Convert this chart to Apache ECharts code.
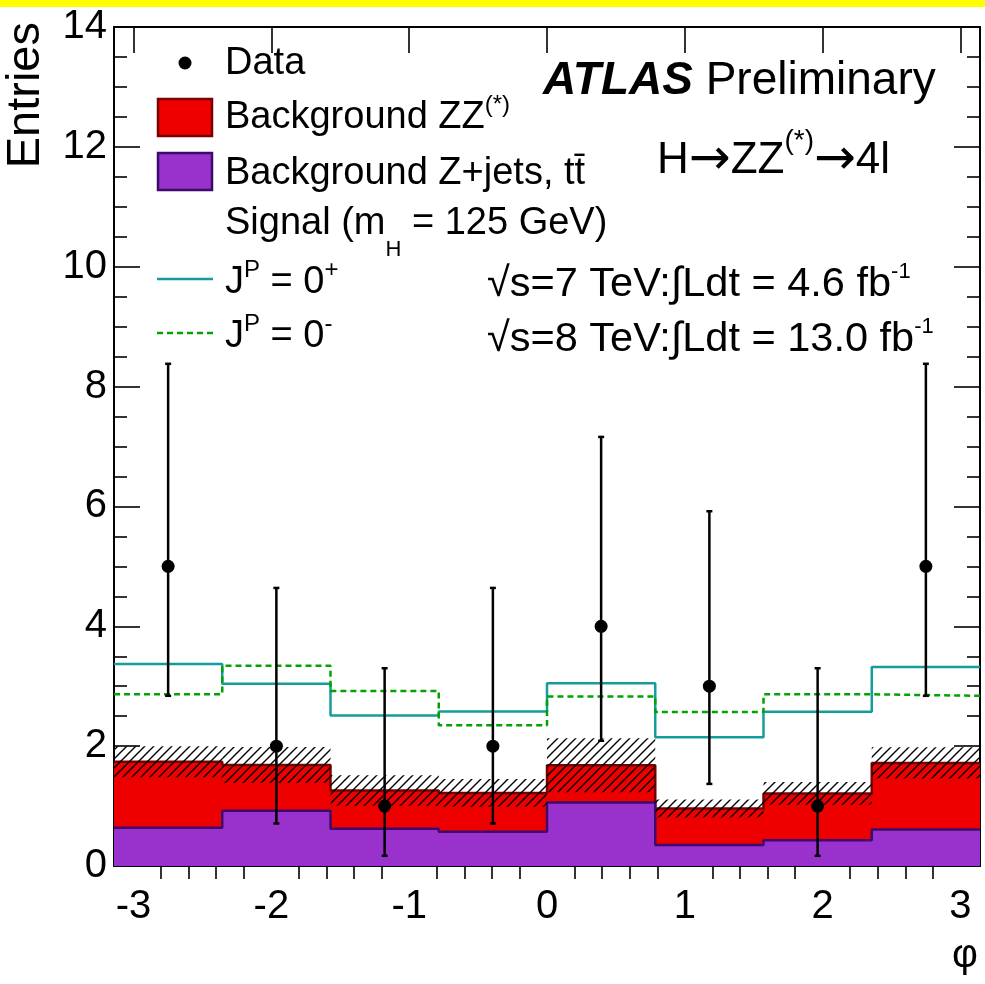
<!DOCTYPE html>
<html>
<head>
<meta charset="utf-8">
<script src="https://cdn.jsdelivr.net/npm/echarts@6/dist/echarts.min.js"></script>
<style>
  html, body { margin: 0; padding: 0; background: #fff; }
  #chart { width: 985px; height: 984px; }
</style>
</head>
<body>
<div id="chart"></div>
<script>
// ---- histogram binning in phi (8 bins of pi/4) ----
const binEdges = [-Math.PI, -3 * Math.PI / 4, -Math.PI / 2, -Math.PI / 4, 0,
                  Math.PI / 4, Math.PI / 2, 3 * Math.PI / 4, Math.PI];

// background Z+jets, ttbar (bottom of stack)
const bgZjets = [0.64, 0.92, 0.62, 0.57, 1.06, 0.35, 0.43, 0.61];
// background ZZ(*) (stacked on top of Z+jets)
const bgZZ = [1.10, 0.765, 0.64, 0.65, 0.62, 0.61, 0.78, 1.11];
// systematic uncertainty on the total background (hatched band)
const bgUnc = [0.26, 0.30, 0.255, 0.23, 0.45, 0.15, 0.19, 0.26];

// signal + background expectations for the two spin-parity hypotheses
const sigPlus = [3.37, 3.04, 2.51, 2.58, 3.05, 2.15, 2.575, 3.32];   // J^P = 0+
const sigMinus = [2.865, 3.34, 2.92, 2.35, 2.83, 2.57, 2.865, 2.84]; // J^P = 0-

// observed events with Poisson error bounds
const dataCounts = [5, 2, 1, 2, 4, 3, 1, 5];
const dataLow = [2.84, 0.71, 0.17, 0.71, 2.09, 1.37, 0.17, 2.84];
const dataHigh = [8.38, 4.64, 3.30, 4.64, 7.16, 5.92, 3.30, 8.38];

// axis ticks
const xMajorTicks = [-3, -2, -1, 0, 1, 2, 3];
const xMinorTicks = [];
for (let k = -30; k <= 30; k += 2) { if (k % 10 !== 0) xMinorTicks.push(k / 10); }

const FONT = 'Liberation Sans, Arial, Helvetica, sans-serif';
const ARROW_FONT = 'DejaVu Sans, sans-serif';
const RED = '#ee0000', RED_LINE = '#7a0000';
const PURPLE = '#9932cc', PURPLE_LINE = '#3c0a6e';
const CYAN = '#159c9c', GREEN = '#00a300';

// diagonal "///" hatch used for the background uncertainty
function makeHatch() {
  const s = 9;
  const c = document.createElement('canvas');
  c.width = s; c.height = s;
  const g = c.getContext('2d');
  g.strokeStyle = '#000';
  g.lineWidth = 1.4;
  g.beginPath();
  g.moveTo(0, s); g.lineTo(s, 0);
  g.moveTo(-2, 2); g.lineTo(2, -2);
  g.moveTo(s - 2, s + 2); g.lineTo(s + 2, s - 2);
  g.stroke();
  return { image: c, repeat: 'repeat' };
}

const nBins = bgZjets.length;
const bgTotal = bgZjets.map((v, i) => v + bgZZ[i]);
const binCenters = binEdges.slice(0, nBins).map((e, i) => (e + binEdges[i + 1]) / 2);

// filled boxes per bin: [xLow, xHigh, yLow, yHigh]
function boxSeries(name, lows, highs, style, z) {
  return {
    type: 'custom', name: name, z: z, silent: true,
    renderItem: function (params, api) {
      const p0 = api.coord([api.value(0), api.value(3)]);
      const p1 = api.coord([api.value(1), api.value(2)]);
      return {
        type: 'rect',
        shape: { x: p0[0], y: p0[1], width: p1[0] - p0[0], height: p1[1] - p0[1] },
        style: style
      };
    },
    encode: { x: [0, 1], y: [2, 3] },
    data: lows.map((lo, i) => [binEdges[i], binEdges[i + 1], lo, highs[i]])
  };
}

// histogram drawn as a step line, optionally filled down to zero
function stepSeries(name, vals, color, width, type, z, fill) {
  const s = {
    type: 'line', name: name, z: z, step: 'end', showSymbol: false, silent: true,
    lineStyle: { color: color, width: width, type: type },
    data: binEdges.map((e, i) => [e, vals[Math.min(i, nBins - 1)]])
  };
  if (fill) s.areaStyle = { color: fill, opacity: 1, origin: 'start' };
  return s;
}

const hatch = makeHatch();

const series = [
  stepSeries('Background ZZ(*)', bgTotal, RED_LINE, 2.5, 'solid', 1, RED),
  stepSeries('Background Z+jets, tt', bgZjets, PURPLE_LINE, 2.5, 'solid', 2, PURPLE),
  boxSeries('Uncertainty', bgTotal.map((v, i) => v - bgUnc[i]), bgTotal.map((v, i) => v + bgUnc[i]),
            { fill: hatch }, 4),
  stepSeries('JP = 0+', sigPlus, CYAN, 2.5, 'solid', 5),
  stepSeries('JP = 0-', sigMinus, GREEN, 2.5, [6, 4], 5),
  {
    type: 'custom', name: 'Data', z: 6, silent: true,
    renderItem: function (params, api) {
      const x = api.value(0);
      const pc = api.coord([x, api.value(1)]);
      const pl = api.coord([x, api.value(2)]);
      const ph = api.coord([x, api.value(3)]);
      const ls = { stroke: '#000', lineWidth: 2.5 };
      return {
        type: 'group',
        children: [
          { type: 'line', shape: { x1: pl[0], y1: pl[1], x2: ph[0], y2: ph[1] }, style: ls },
          { type: 'line', shape: { x1: pl[0] - 3, y1: pl[1], x2: pl[0] + 3, y2: pl[1] }, style: ls },
          { type: 'line', shape: { x1: ph[0] - 3, y1: ph[1], x2: ph[0] + 3, y2: ph[1] }, style: ls },
          { type: 'circle', shape: { cx: pc[0], cy: pc[1], r: 6.5 }, style: { fill: '#000' } }
        ]
      };
    },
    encode: { x: 0, y: [1, 2, 3] },
    data: dataCounts.map((n, i) => [binCenters[i], n, dataLow[i], dataHigh[i]])
  }
];

const tickLine = { color: '#000', width: 1.6 };
const frameLine = { show: true, onZero: false, lineStyle: { color: '#000', width: 2 } };

function xAxisDef(position, ticks, len, withLabels, withLine) {
  return {
    type: 'value', position: position, min: -Math.PI, max: Math.PI,
    axisLine: withLine ? frameLine : { show: false },
    splitLine: { show: false },
    axisTick: { show: true, inside: true, length: len, customValues: ticks, lineStyle: tickLine },
    axisLabel: withLabels ? {
      show: true, customValues: ticks, color: '#000', fontFamily: FONT, fontSize: 40, margin: 21,
      formatter: v => String(Math.round(v))
    } : { show: false }
  };
}

function yAxisDef(position, withLabels) {
  return {
    type: 'value', position: position, min: 0, max: 14, interval: 2,
    axisLine: frameLine,
    splitLine: { show: false },
    axisTick: { show: true, inside: true, length: 26, lineStyle: tickLine },
    minorTick: { show: true, splitNumber: 4, length: 13, lineStyle: tickLine },
    axisLabel: withLabels ? {
      show: true, color: '#000', fontFamily: FONT, fontSize: 40, margin: 7,
      showMinLabel: true, showMaxLabel: true
    } : { show: false }
  };
}

// rich text styles: base text, superscript, subscript and arrow
function richStyles(size, baseShift, supSize, supUp, subSize, subDown, arrowSize) {
  const baseCenter = baseShift + size / 2;
  const aSize = arrowSize || size;
  return {
    b: { fontFamily: FONT, fontSize: size, color: '#000', verticalAlign: 'top', padding: [baseShift, 0, 0, 0] },
    arr: { fontFamily: ARROW_FONT, fontSize: aSize, color: '#000', verticalAlign: 'top',
           padding: [baseCenter - aSize / 2, 0, 0, 0] },
    sup: { fontFamily: FONT, fontSize: supSize, color: '#000', verticalAlign: 'top',
           padding: [baseCenter - supUp - supSize / 2, 0, 0, 0] },
    sub: { fontFamily: FONT, fontSize: subSize, color: '#000', verticalAlign: 'top',
           padding: [baseCenter + subDown - subSize / 2, 0, 0, 0] }
  };
}

const LEG = 38, LEG_SHIFT = 14;
const legRich = richStyles(LEG, LEG_SHIFT, 24, 13, 22, 26);
function legendText(x, capCenter, text) {
  return {
    type: 'text', x: x, y: capCenter - LEG_SHIFT - LEG / 2, z: 100,
    style: { text: text, rich: legRich, verticalAlign: 'top', align: 'left' }
  };
}

const LUMI = 41.5, LUMI_SHIFT = 12;
const lumiRich = richStyles(LUMI, LUMI_SHIFT, 22, 12, 20, 20);

const graphic = [
  // yellow strip along the top edge
  { type: 'rect', shape: { x: 0, y: 0, width: 985, height: 7 }, style: { fill: '#ffff00' }, z: 100 },
  // axis titles
  { type: 'text', x: 26, y: 22, rotation: Math.PI / 2, z: 100,
    style: { text: 'Entries', fontFamily: FONT, fontSize: 47, fill: '#000', align: 'right', verticalAlign: 'middle' } },
  { type: 'text', x: 965, y: 956, z: 100,
    style: { text: 'φ', fontFamily: FONT, fontSize: 40, fill: '#000', align: 'center', verticalAlign: 'middle' } },
  // legend markers
  { type: 'circle', shape: { cx: 185, cy: 63, r: 6.5 }, style: { fill: '#000' }, z: 100 },
  { type: 'rect', shape: { x: 158, y: 99, width: 54, height: 37 }, style: { fill: RED, stroke: RED_LINE, lineWidth: 2.5 }, z: 100 },
  { type: 'rect', shape: { x: 158, y: 153, width: 54, height: 37 }, style: { fill: PURPLE, stroke: PURPLE_LINE, lineWidth: 2.5 }, z: 100 },
  { type: 'line', shape: { x1: 157, y1: 279, x2: 213, y2: 279 }, style: { stroke: CYAN, lineWidth: 2.5 }, z: 100 },
  { type: 'line', shape: { x1: 157, y1: 333, x2: 213, y2: 333 }, style: { stroke: GREEN, lineWidth: 2.5, lineDash: [6, 4] }, z: 100 },
  // legend labels
  legendText(225, 64, '{b|Data}'),
  legendText(225, 118, '{b|Background ZZ}{sup|(*)}'),
  legendText(225, 174, '{b|Background Z+jets, tt\u0304}'),
  legendText(225, 224, '{b|Signal (m}{sub|H}{b| = 125 GeV)}'),
  legendText(225, 283, '{b|J}{sup|P}{b| = 0}{sup|+}'),
  legendText(225, 337, '{b|J}{sup|P}{b| = 0}{sup|-}'),
  // experiment label
  { type: 'text', x: 543, y: 81, z: 100,
    style: {
      text: '{a|ATLAS}{p| Preliminary}', verticalAlign: 'middle', align: 'left',
      rich: {
        a: { fontFamily: FONT, fontSize: 46, fontWeight: 'bold', fontStyle: 'italic', color: '#000' },
        p: { fontFamily: FONT, fontSize: 46, color: '#000' }
      }
    } },
  // process label
  { type: 'text', x: 657, y: 161 - 42, z: 100,
    style: {
      text: '{b|H}{arr|\u2192}{b|ZZ}{sup|(*)}{arr|\u2192}{b|4l}', verticalAlign: 'top', align: 'left',
      rich: richStyles(44, 20, 28, 19.5, 20, 20, 50)
    } },
  // luminosity labels
  { type: 'text', x: 487, y: 284 - LUMI_SHIFT - LUMI / 2, z: 100,
    style: {
      text: '{b|\u221As=7 TeV:\u222BLdt = 4.6 fb}{sup|-1}', verticalAlign: 'top', align: 'left',
      rich: lumiRich
    } },
  { type: 'text', x: 487, y: 339 - LUMI_SHIFT - LUMI / 2, z: 100,
    style: {
      text: '{b|\u221As=8 TeV:\u222BLdt = 13.0 fb}{sup|-1}', verticalAlign: 'top', align: 'left',
      rich: lumiRich
    } }
];

const chart = echarts.init(document.getElementById('chart'), null, { renderer: 'canvas' });
chart.setOption({
  animation: false,
  backgroundColor: '#fff',
  grid: { left: 114, top: 27, width: 866, height: 839, containLabel: false },
  xAxis: [
    xAxisDef('bottom', xMajorTicks, 26, true, true),
    xAxisDef('bottom', xMinorTicks, 13, false, false),
    xAxisDef('top', xMajorTicks, 26, false, true),
    xAxisDef('top', xMinorTicks, 13, false, false)
  ],
  yAxis: [yAxisDef('left', true), yAxisDef('right', false)],
  series: series,
  graphic: graphic
});
</script>
</body>
</html>
